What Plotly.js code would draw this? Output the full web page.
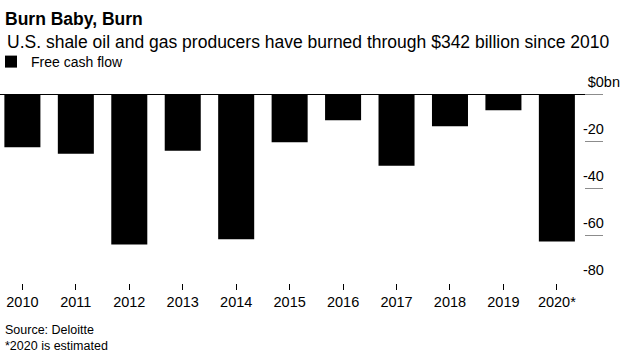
<!DOCTYPE html>
<html>
<head>
<meta charset="utf-8">
<script src="https://cdn.plot.ly/plotly-3.0.1.min.js"></script>
<style>html,body{margin:0;padding:0;background:#fff;}#chart{width:636px;height:358px;}</style>
</head>
<body>
<div id="chart"></div>
<script>
// Data
const years = ['2010','2011','2012','2013','2014','2015','2016','2017','2018','2019','2020*'];
const freeCashFlow = [-22.4, -25.2, -63.7, -23.9, -61.4, -20.3, -11.0, -30.3, -13.5, -6.8, -62.4];
const yTickVals = [0, -20, -40, -60, -80];
const yTickText = ['$0bn', '-20\u00a0\u00a0\u00a0\u00a0', '-40\u00a0\u00a0\u00a0\u00a0', '-60\u00a0\u00a0\u00a0\u00a0', '-80\u00a0\u00a0\u00a0\u00a0'];
const titleText = 'Burn Baby, Burn';
const subtitleText = 'U.S. shale oil and gas producers have burned through $342 billion since 2010';
const noteLines = ['Source: Deloitte', '*2020 is estimated'];

const FONT = 'Liberation Sans, Arial, sans-serif';
const PT = 70, PH = 213; // plot top and height in px

const trace = {
  type: 'bar',
  x: years,
  y: freeCashFlow,
  name: 'Free cash flow',
  marker: {color: '#000000', line: {width: 0}},
  hoverinfo: 'x+y'
};

const layout = {
  width: 636,
  height: 358,
  margin: {l: 0, r: 33, t: PT, b: 358 - PT - PH, autoexpand: false},
  paper_bgcolor: '#ffffff',
  plot_bgcolor: '#ffffff',
  font: {family: FONT, color: '#000000', size: 14.5},
  bargap: 0.326,
  title: {
    text: '<b>' + titleText + '</b>',
    font: {family: FONT, size: 17.5, color: '#000000'},
    x: 5/636, xanchor: 'left', xref: 'container',
    y: 1 - 13/358, yanchor: 'top', yref: 'container'
  },
  showlegend: true,
  legend: {
    orientation: 'h',
    x: -9/603, xanchor: 'left',
    y: 1 + (PT - 62) / PH, yanchor: 'middle', yref: 'paper',
    font: {family: FONT, size: 14, color: '#000000'},
    bgcolor: 'rgba(0,0,0,0)'
  },
  xaxis: {
    type: 'category',
    range: [-0.419, 10.863],
    showgrid: false, zeroline: false, showline: false,
    ticks: 'outside', ticklen: 6, tickwidth: 1, tickcolor: '#000000',
    tickfont: {family: FONT, size: 14.5, color: '#000000'},
    fixedrange: true
  },
  yaxis: {
    side: 'right',
    range: [-80, 10.3],
    tickmode: 'array',
    tickvals: yTickVals,
    ticktext: yTickText,
    ticks: 'inside', ticklen: 18, tickwidth: 1, tickcolor: '#8c8c8c',
    ticklabelposition: 'inside top',
    ticklabelstandoff: -20,
    ticklabelshift: -2,
    showgrid: false, showline: false,
    zeroline: true, zerolinecolor: '#000000', zerolinewidth: 1,
    tickfont: {family: FONT, size: 14.5, color: '#000000'},
    fixedrange: true
  },
  annotations: [{
    xref: 'paper', yref: 'paper',
    x: 5/603, y: 1 + (PT - 42) / PH,
    xanchor: 'left', yanchor: 'middle', align: 'left',
    showarrow: false,
    text: subtitleText,
    font: {family: FONT, size: 17.5, color: '#000000'}
  }, {
    xref: 'paper', yref: 'paper',
    x: 3/603, y: (PT + PH - 321) / PH,
    xanchor: 'left', yanchor: 'top', align: 'left',
    showarrow: false,
    text: noteLines.join('<br>'),
    font: {family: FONT, size: 12.5, color: '#000000'}
  }]
};

Plotly.newPlot('chart', [trace], layout, {displayModeBar: false, staticPlot: true});
</script>
</body>
</html>
